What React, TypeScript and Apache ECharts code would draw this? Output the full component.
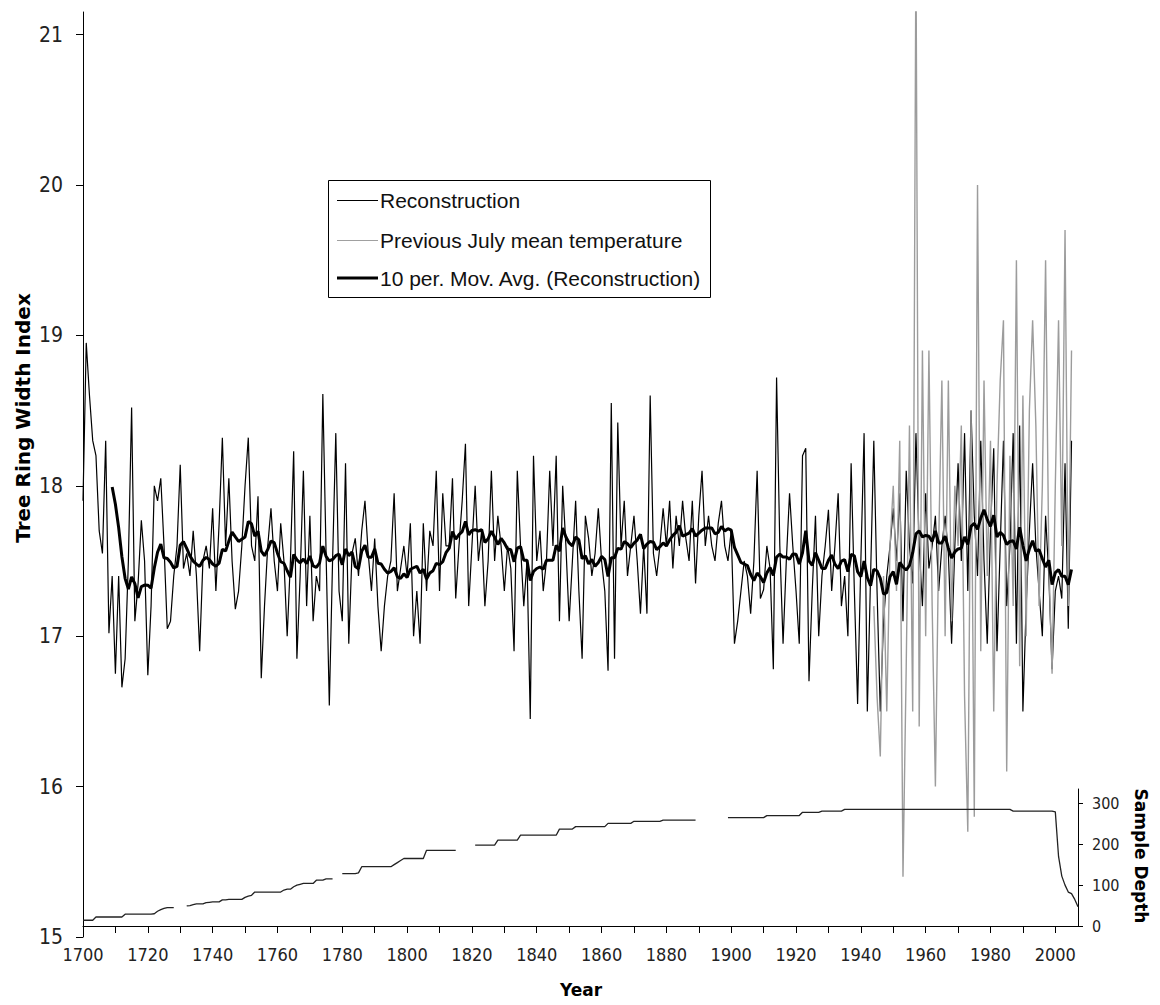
import React, { useEffect, useRef } from "react";
import * as echarts from "echarts";

const START_YEAR = 1700;

// Reconstruction (tree ring width index), 1700-2005
const reconstruction = [
  17.9, 18.95, 18.6, 18.3, 18.2, 17.7, 17.55, 18.3, 17.02, 17.4,
  16.75, 17.4, 16.66, 16.85, 17.5, 18.52, 17.1, 17.35, 17.77, 17.5,
  16.74, 17.2, 18.0, 17.9, 18.05, 17.6, 17.05, 17.1, 17.4, 17.6,
  18.14, 17.45, 17.55, 17.4, 17.7, 17.4, 16.9, 17.5, 17.6, 17.45,
  17.85, 17.3, 17.75, 18.32, 17.6, 18.05, 17.5, 17.18, 17.3, 17.6,
  18.0, 18.32, 17.6, 17.5, 17.93, 16.72, 17.2, 17.6, 17.85, 17.5,
  17.3, 17.75, 17.5, 17.0, 17.5, 18.23, 16.85, 17.4, 18.1, 17.2,
  17.8, 17.1, 17.4, 17.3, 18.61, 17.55, 16.54, 17.5, 18.35, 17.3,
  17.1, 18.15, 16.95, 17.55, 17.65, 17.4, 17.7, 17.9, 17.55, 17.3,
  17.65, 17.2, 16.9, 17.2, 17.4, 17.5, 17.95, 17.3, 17.45, 17.6,
  17.4, 17.75, 17.0, 17.3, 16.95, 17.75, 17.3, 17.7, 17.6, 18.1,
  17.3, 17.95, 17.6, 17.6, 18.05, 17.25, 17.6, 17.9, 18.28, 17.2,
  17.6, 18.0, 17.5, 17.7, 17.2, 17.5, 18.1, 17.5, 17.8, 17.6,
  17.3, 17.6, 17.45, 16.9, 18.1, 17.6, 17.2, 17.5, 16.45, 18.2,
  17.5, 17.7, 17.3, 17.5, 18.1, 17.6, 18.2, 17.1, 18.0, 17.6,
  17.1, 17.5, 17.9, 17.3, 16.85, 17.8, 17.65, 17.4, 17.55, 17.85,
  17.5, 17.3, 16.77, 18.55, 16.85, 18.42, 17.6, 17.9, 17.4, 17.6,
  17.8, 17.5, 17.15, 17.6, 17.15, 18.6, 17.55, 17.4, 17.6, 17.85,
  17.6, 17.9, 17.45, 17.8, 17.6, 17.9, 17.65, 17.5, 17.9, 17.35,
  17.8, 18.1, 17.6, 17.8, 17.6, 17.5, 17.75, 17.9, 17.6, 17.5,
  17.7, 16.95, 17.1, 17.3, 17.5, 17.4, 17.15, 17.5, 18.1, 17.25,
  17.31, 17.6, 17.45, 16.78, 18.72, 17.6, 16.95, 17.5, 17.95, 17.6,
  17.3, 16.95, 18.2, 18.25, 16.7, 17.3, 17.8, 17.0, 17.4, 17.6,
  17.84, 17.3, 17.6, 17.95, 17.2, 17.4, 17.0, 18.15, 17.3, 16.55,
  17.5, 18.35, 16.5, 17.4, 18.3, 17.3, 16.5, 17.1, 17.4, 17.6,
  17.85, 17.5, 17.95, 17.1, 18.1, 17.6, 17.35, 18.35, 17.6, 17.2,
  17.95, 17.45, 17.6, 17.8, 17.3, 17.6, 17.8, 17.55, 16.95, 17.6,
  18.15, 17.5, 18.35, 17.3, 18.5, 17.8, 17.4, 18.3, 17.5, 16.95,
  17.7, 18.25, 16.9, 17.6, 18.3, 17.2, 17.6, 18.35, 16.95, 18.4,
  16.5, 17.2, 17.7, 18.15, 17.6, 17.3, 17.0, 17.8, 17.4, 16.78,
  17.3, 17.4, 17.25, 18.15, 17.05, 18.3,
];

// Previous July mean temperature, 1944-2005
const TEMP_START = 1944;
const temperature = [
  17.2, 16.6, 16.2, 17.4, 16.5, 17.6, 18.0, 17.3, 18.3, 15.4,
  16.8, 18.4, 16.5, 21.6, 16.4, 18.9, 17.0, 18.9, 17.2, 16.0,
  17.6, 18.7, 17.0, 18.7, 17.1, 18.0, 17.6, 18.4, 16.6, 15.7,
  18.5, 15.8, 20.0, 16.9, 18.7, 17.4, 18.3, 16.5, 18.0, 18.7,
  19.1, 16.1, 18.2, 17.2, 19.5, 16.8, 18.6, 17.0, 18.5, 19.1,
  18.4, 17.2, 18.0, 19.5, 17.5, 16.75, 18.0, 19.1, 17.6, 19.7,
  17.2, 18.9,
];

// Sample depth, 1700-2007 (null = no line drawn)
const depth = [
  14, 14, 14, 14, 22, 22, 22, 22, 22, 22,
  22, 22, 22, 29, 29, 29, 29, 29, 29, 29,
  29, 29, 30, 36, 40, 43, 45, 45, 45, null,
  null, null, 49, 50, 52, 54, 54, 54, 57, 58,
  59, 59, 59, 64, 64, 65, 65, 65, 65, 65,
  70, 73, 75, 83, 83, 83, 83, 83, 83, 83,
  83, 83, 88, 90, 90, 96, 100, 102, 104, 104,
  104, 104, 112, 112, 112, 115, 115, 115, null, null,
  128, 128, 128, 128, 128, 130, 145, 145, 145, 145,
  145, 145, 145, 145, 145, 145, 150, 155, 160, 165,
  165, 165, 165, 165, 165, 165, 185, 185, 185, 185,
  185, 185, 185, 185, 185, 185, null, null, null, null,
  null, 198, 198, 198, 198, 198, 198, 198, 210, 210,
  210, 210, 210, 210, 210, 222, 222, 222, 222, 222,
  222, 222, 222, 222, 222, 222, 222, 237, 237, 237,
  237, 237, 243, 243, 243, 243, 243, 243, 243, 243,
  243, 243, 251, 251, 251, 251, 251, 251, 251, 251,
  256, 256, 256, 256, 256, 256, 256, 256, 256, 259,
  259, 259, 259, 259, 259, 259, 259, 259, 259, 259,
  null, null, null, null, null, null, null, null, null, 265,
  265, 265, 265, 265, 265, 265, 265, 265, 265, 265,
  265, 270, 270, 270, 270, 270, 270, 270, 270, 270,
  270, 270, 278, 278, 278, 278, 278, 278, 281, 281,
  281, 281, 281, 281, 281, 285, 285, 285, 285, 285,
  285, 285, 285, 285, 285, 285, 285, 285, 285, 285,
  285, 285, 285, 285, 285, 285, 285, 285, 285, 285,
  285, 285, 285, 285, 285, 285, 285, 285, 285, 285,
  285, 285, 285, 285, 285, 285, 285, 285, 285, 285,
  285, 285, 285, 285, 285, 285, 285, 281, 281, 281,
  281, 281, 281, 281, 281, 281, 281, 281, 281, 281,
  279, 170, 122, 100, 83, 79, 65, 47,
];

const yTicks = [15, 16, 17, 18, 19, 20, 21];
const xTickYears = [
  1700, 1710, 1720, 1730, 1740, 1750, 1760, 1770, 1780, 1790,
  1800, 1810, 1820, 1830, 1840, 1850, 1860, 1870, 1880, 1890,
  1900, 1910, 1920, 1930, 1940, 1950, 1960, 1970, 1980, 1990, 2000,
];
const xLabelYears = [
  1700, 1720, 1740, 1760, 1780, 1800, 1820, 1840, 1860, 1880, 1900,
  1920, 1940, 1960, 1980, 2000,
];
const depthTicks = [0, 100, 200, 300];

const legendNames = [
  "Reconstruction",
  "Previous July mean temperature",
  "10 per. Mov. Avg. (Reconstruction)",
];

const NARROW =
  "'Liberation Sans Narrow', 'Arial Narrow', 'DejaVu Sans Condensed', 'Liberation Sans', Arial, sans-serif";
const SANS = "'Liberation Sans', Arial, sans-serif";
const BOLD = "'DejaVu Sans', 'Liberation Sans', sans-serif";

export default function App() {
  const ref = useRef<HTMLDivElement>(null);

  useEffect(() => {
    if (!ref.current) return;
    const chart = echarts.init(ref.current, undefined, { renderer: "svg" });

    const reconData = reconstruction.map((v, i) => [START_YEAR + i, v]);
    const tempData = temperature.map((v, i) => [TEMP_START + i, v]);
    // 10-period moving average trendline of the reconstruction (as in the original)
    const maData = reconstruction
      .map((_, i) => {
        if (i < 9) return null;
        let s = 0;
        for (let k = i - 9; k <= i; k++) s += reconstruction[k];
        return [START_YEAR + i, s / 10];
      })
      .filter((d) => d !== null);
    const depthData = depth.map((v, i) => [START_YEAR + i, v]);

    const legendRows = [200, 240, 278];
    const legendLineY = [200.5, 240.5, 278];
    const legendStyles = [
      { stroke: "#000", lineWidth: 1 },
      { stroke: "#a0a0a0", lineWidth: 1 },
      { stroke: "#000", lineWidth: 3 },
    ];

    const graphic: any[] = [
      {
        type: "rect",
        z: 10,
        shape: { x: 328.5, y: 180.5, width: 382, height: 117 },
        style: { fill: "#fff", stroke: "#000", lineWidth: 1 },
      },
      {
        type: "text",
        z: 10,
        x: 23,
        y: 418,
        rotation: Math.PI / 2,
        style: {
          text: "Tree Ring Width Index",
          fontSize: 20,
          fontWeight: "bold",
          fontFamily: BOLD,
          fill: "#000",
          align: "center",
          verticalAlign: "middle",
        },
      },
      {
        type: "text",
        z: 10,
        x: 1141,
        y: 856,
        rotation: -Math.PI / 2,
        style: {
          text: "Sample Depth",
          fontSize: 17,
          fontWeight: "bold",
          fontFamily: BOLD,
          fill: "#000",
          align: "center",
          verticalAlign: "middle",
        },
      },
      {
        type: "text",
        z: 10,
        x: 581,
        y: 990,
        style: {
          text: "Year",
          fontSize: 17,
          fontWeight: "bold",
          fontFamily: BOLD,
          fill: "#000",
          align: "center",
          verticalAlign: "middle",
        },
      },
    ];
    legendNames.forEach((name, i) => {
      graphic.push({
        type: "line",
        z: 11,
        shape: { x1: 337, y1: legendLineY[i], x2: 378, y2: legendLineY[i] },
        style: legendStyles[i],
      });
      graphic.push({
        type: "text",
        z: 11,
        x: 380,
        y: legendRows[i],
        style: {
          text: name,
          fontSize: 21,
          fontFamily: SANS,
          fill: "#111",
          align: "left",
          verticalAlign: "middle",
        },
      });
    });

    const option: any = {
      animation: false,
      backgroundColor: "#fff",
      grid: [
        { left: 83, top: 12, width: 995, height: 925 },
        { left: 83, top: 789, width: 995, height: 137 },
      ],
      xAxis: [
        {
          gridIndex: 0,
          type: "value",
          min: 1700,
          max: 2007,
          show: false,
        },
        {
          gridIndex: 1,
          type: "value",
          min: 1700,
          max: 2007,
          interval: 10,
          axisLine: { show: true, onZero: false, lineStyle: { color: "#000", width: 1 } },
          axisTick: {
            show: true,
            length: 7,
            customValues: xTickYears,
            lineStyle: { color: "#000", width: 1 },
          },
          axisLabel: {
            customValues: xLabelYears,
            formatter: (v: number) => String(v),
            fontSize: 18,
            color: "#222",
            fontFamily: NARROW,
            margin: 19,
          },
          splitLine: { show: false },
        },
      ],
      yAxis: [
        {
          gridIndex: 0,
          type: "value",
          min: 15,
          max: 21.15,
          interval: 1,
          axisLine: { show: true, onZero: false, lineStyle: { color: "#000", width: 1 } },
          axisTick: {
            show: true,
            length: 7,
            customValues: yTicks,
            lineStyle: { color: "#000", width: 1 },
          },
          axisLabel: {
            customValues: yTicks,
            formatter: (v: number) => String(v),
            fontSize: 21,
            color: "#222",
            fontFamily: NARROW,
            margin: 20,
          },
          splitLine: { show: false },
        },
        {
          gridIndex: 1,
          type: "value",
          position: "right",
          min: 0,
          max: 335,
          interval: 100,
          axisLine: { show: true, onZero: false, lineStyle: { color: "#000", width: 1 } },
          axisTick: {
            show: true,
            length: 5,
            customValues: depthTicks,
            lineStyle: { color: "#000", width: 1 },
          },
          axisLabel: {
            customValues: depthTicks,
            formatter: (v: number) => String(v),
            fontSize: 16,
            color: "#222",
            fontFamily: NARROW,
            margin: 14,
          },
          splitLine: { show: false },
        },
      ],
      series: [
        {
          name: legendNames[0],
          type: "line",
          xAxisIndex: 0,
          yAxisIndex: 0,
          data: reconData,
          symbol: "none",
          lineStyle: { color: "#000", width: 1.2 },
          itemStyle: { color: "#000" },
        },
        {
          name: legendNames[1],
          type: "line",
          xAxisIndex: 0,
          yAxisIndex: 0,
          data: tempData,
          symbol: "none",
          lineStyle: { color: "#9c9c9c", width: 1.4 },
          itemStyle: { color: "#9c9c9c" },
        },
        {
          name: legendNames[2],
          type: "line",
          xAxisIndex: 0,
          yAxisIndex: 0,
          data: maData,
          symbol: "none",
          lineStyle: { color: "#000", width: 3 },
          itemStyle: { color: "#000" },
        },
        {
          name: "Sample Depth",
          type: "line",
          xAxisIndex: 1,
          yAxisIndex: 1,
          data: depthData,
          symbol: "none",
          connectNulls: false,
          lineStyle: { color: "#222", width: 1.3 },
          itemStyle: { color: "#222" },
        },
      ],
      graphic,
    };

    chart.setOption(option);
    return () => chart.dispose();
  }, []);

  return (
    <div
      ref={ref}
      style={{ position: "absolute", left: 0, top: 0, width: 1160, height: 1005 }}
    />
  );
}
